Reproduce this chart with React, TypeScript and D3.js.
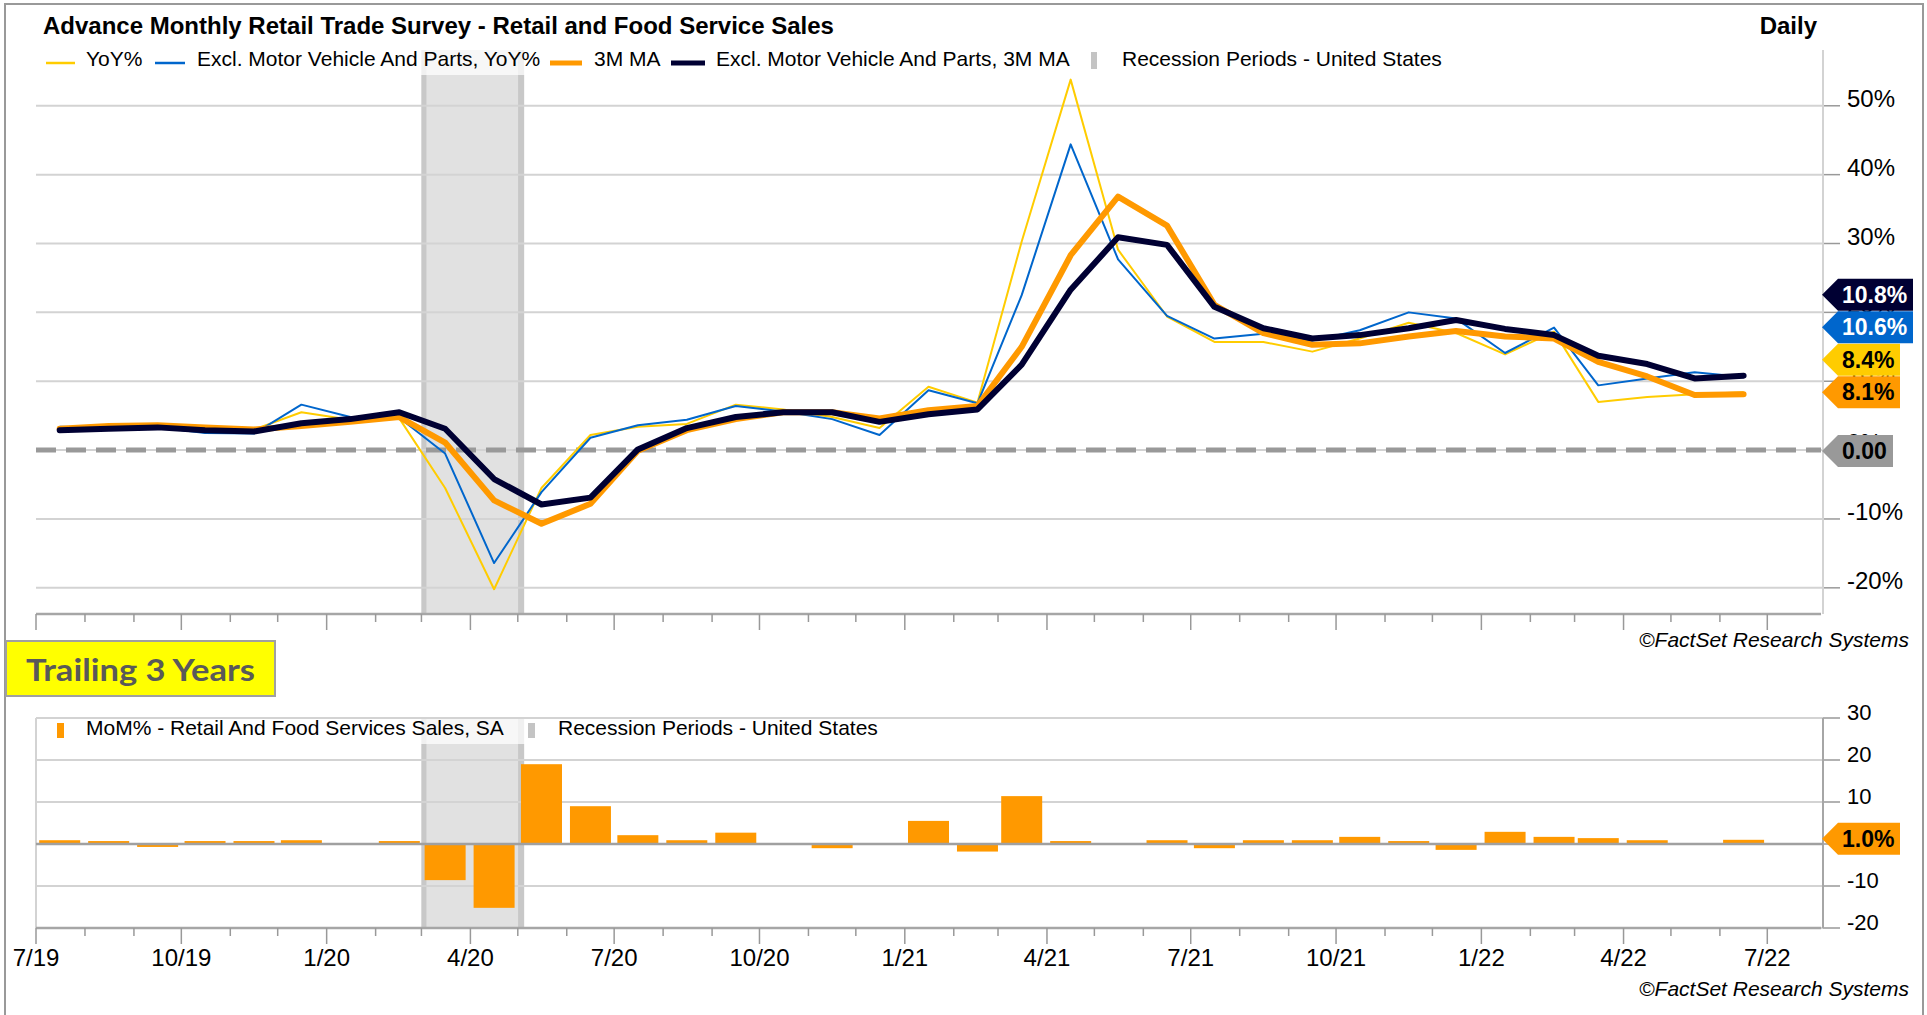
import React from 'react';
import * as d3 from 'd3';

const months = [
  '2019-07','2019-08','2019-09','2019-10','2019-11','2019-12',
  '2020-01','2020-02','2020-03','2020-04','2020-05','2020-06',
  '2020-07','2020-08','2020-09','2020-10','2020-11','2020-12',
  '2021-01','2021-02','2021-03','2021-04','2021-05','2021-06',
  '2021-07','2021-08','2021-09','2021-10','2021-11','2021-12',
  '2022-01','2022-02','2022-03','2022-04','2022-05','2022-06'
];
const yoy = [3.2,3.5,3.5,3.2,3.0,5.5,4.4,4.6,-5.5,-20.2,-5.5,2.2,3.4,3.8,6.6,5.9,4.8,3.2,9.2,6.9,30.3,53.8,29.1,19.4,15.7,15.7,14.3,16.2,18.5,17.0,13.9,17.2,7.0,7.7,8.1,8.4];
const exMotorYoy = [3.4,3.3,3.3,2.5,2.4,6.6,4.8,4.7,-0.5,-16.4,-6.1,1.8,3.6,4.4,6.4,5.6,4.5,2.2,8.7,6.8,22.5,44.4,27.7,19.5,16.2,16.9,15.9,17.4,20.0,19.1,14.1,17.8,9.4,10.4,11.3,10.6];
const ma3 = [3.1,3.5,3.6,3.3,3.0,3.5,4.1,4.8,1.1,-7.3,-10.7,-7.8,-0.1,2.9,4.5,5.5,5.5,4.6,5.8,6.4,15.0,28.3,36.8,32.6,21.1,17.0,15.3,15.5,16.5,17.3,16.5,16.2,12.8,10.7,8.0,8.1];
const exMotorMa3 = [2.9,3.1,3.3,2.9,2.7,3.9,4.5,5.5,3.1,-4.2,-7.9,-6.9,0.1,3.2,4.8,5.5,5.5,4.1,5.2,5.9,12.4,23.3,30.9,29.8,20.8,17.7,16.2,16.7,17.7,18.9,17.6,16.7,13.7,12.5,10.4,10.8];
const mom = [0.9,0.7,-0.7,0.7,0.7,0.9,0.1,0.7,-8.6,-15.2,19.0,9.0,2.1,0.9,2.7,0.1,-1.0,-0.2,5.5,-1.8,11.4,0.7,0.1,0.9,-1.0,0.9,0.9,1.7,0.7,-1.4,2.9,1.7,1.4,0.9,-0.2,1.0];
const recession = ['2020-03-01', '2020-05-05'];
const topTicks = [-20, -10, 0, 10, 20, 30, 40, 50];
const bottomTicks = [-20, -10, 0, 10, 20, 30];
const bottomLabelTicks = [-20, -10, 10, 20, 30];
const xDomain = ['2019-07-01', '2022-08-04'];
const xTickRange = ['2019-07-01', '2022-07-01'];

const FONT = '"Liberation Sans", Arial, Helvetica, sans-serif';
const C = {
  yellow: '#FFCC00',
  blue: '#0066CC',
  orange: '#FF9900',
  navy: '#000033',
  grid: '#d3d3d3',
  axis: '#a6a6a6',
  band: '#e1e1e1',
  bandEdge: '#c8c8c8',
};

const parse = (s: string) => {
  const [y, m, d] = s.split('-').map(Number);
  return new Date(y, m - 1, d || 16);
};
const dates = months.map((m) => parse(m + '-16'));

const L = 36, R = 1821;
const xs = d3.scaleTime().domain([parse(xDomain[0]), parse(xDomain[1])]).range([L, R]);
const yTop = d3.scaleLinear().domain([-23.8, 58.1]).range([614, 50]);
const yBot = d3.scaleLinear().domain([-20, 30]).range([928, 718]);

const tickDates = d3.timeMonth.range(parse(xTickRange[0]), d3.timeDay.offset(parse(xTickRange[1]), 1));
const fmtTick = (d: Date) => `${d.getMonth() + 1}/${String(d.getFullYear()).slice(2)}`;

function Tag({ cy, right, fill, text, color }: any) {
  const tip = 1822;
  return (
    <g>
      <polygon
        points={`${tip},${cy} ${tip + 16},${cy - 16} ${right},${cy - 16} ${right},${cy + 16} ${tip + 16},${cy + 16}`}
        fill={fill}
      />
      <text x={tip + 20} y={cy + 8} fontSize={23} fontWeight="bold" fill={color} fontFamily={FONT}>
        {text}
      </text>
    </g>
  );
}

function XAxis({ y }: { y: number }) {
  return (
    <g>
      <line x1={L} x2={R} y1={y} y2={y} stroke={C.axis} strokeWidth={2.5} />
      {tickDates.map((d, i) => {
        const major = d.getMonth() % 3 === 0;
        const x = xs(d);
        return <line key={i} x1={x} x2={x} y1={y} y2={y + (major ? 16 : 8)} stroke="#999" strokeWidth={1.5} />;
      })}
    </g>
  );
}

export default function App() {
  const line = d3.line<number>().x((_, i) => xs(dates[i])).y((v) => yTop(v));
  const b0 = xs(parse(recession[0]));
  const b1 = xs(parse(recession[1]));

  // stacked tags
  const series = [
    { v: exMotorMa3[exMotorMa3.length - 1], fill: C.navy, color: '#fff', right: 1913 },
    { v: exMotorYoy[exMotorYoy.length - 1], fill: C.blue, color: '#fff', right: 1913 },
    { v: yoy[yoy.length - 1], fill: C.yellow, color: '#000', right: 1900 },
    { v: ma3[ma3.length - 1], fill: C.orange, color: '#000', right: 1900 },
  ];
  const sorted = [...series].sort((a, b) => a.v - b.v);
  let prev = Infinity;
  const placed = sorted.map((s) => {
    const cy = Math.min(yTop(s.v) - 2, prev - 32.5);
    prev = cy;
    return { ...s, cy };
  });

  const barW = 41;
  const lastMom = mom[mom.length - 1];

  return (
    <svg width={1927} height={1015} style={{ position: 'absolute', left: 0, top: 0, background: '#fff' }} fontFamily={FONT}>
      <rect x={0} y={0} width={1927} height={1015} fill="#fff" />
      <rect x={5} y={4} width={1918} height={1030} fill="none" stroke="#999" strokeWidth={2} />

      {/* Title */}
      <text x={43} y={34} fontSize={24} fontWeight="bold" fill="#000">
        Advance Monthly Retail Trade Survey - Retail and Food Service Sales
      </text>
      <text x={1817} y={34} fontSize={24} fontWeight="bold" textAnchor="end" fill="#000">Daily</text>

      {/* ---------- TOP CHART ---------- */}
      <rect x={b0} y={50} width={b1 - b0} height={564} fill={C.band} />
      <rect x={b0} y={50} width={5} height={564} fill={C.bandEdge} />
      <rect x={b1 - 6} y={50} width={6} height={564} fill={C.bandEdge} />

      {topTicks.map((t) => (
        <g key={t}>
          <line x1={L} x2={R + 2} y1={yTop(t)} y2={yTop(t)} stroke={C.grid} strokeWidth={2} />
          <line x1={R + 2} x2={1840} y1={yTop(t)} y2={yTop(t)} stroke="#999" strokeWidth={1.5} />
          <text x={1847} y={yTop(t) + 1} fontSize={24} fill="#000">{t}%</text>
        </g>
      ))}
      <line x1={R + 2} x2={R + 2} y1={50} y2={614} stroke={C.grid} strokeWidth={2} />
      <line x1={L} x2={R} y1={yTop(0)} y2={yTop(0)} stroke="#999" strokeWidth={5} strokeDasharray="20 10" />

      <path d={line(yoy) || ''} fill="none" stroke={C.yellow} strokeWidth={2} strokeLinejoin="round" />
      <path d={line(exMotorYoy) || ''} fill="none" stroke={C.blue} strokeWidth={2} strokeLinejoin="round" />
      <path d={line(ma3) || ''} fill="none" stroke={C.orange} strokeWidth={6} strokeLinejoin="round" strokeLinecap="round" />
      <path d={line(exMotorMa3) || ''} fill="none" stroke={C.navy} strokeWidth={6} strokeLinejoin="round" strokeLinecap="round" />

      <XAxis y={614} />

      {/* top legend */}
      <rect x={L} y={50} width={1420} height={25} fill="#fff" fillOpacity={0.72} />
      <g fontSize={21} fill="#000">
        <line x1={46} x2={75} y1={63} y2={63} stroke={C.yellow} strokeWidth={2.5} />
        <text x={86} y={66}>YoY%</text>
        <line x1={155} x2={185} y1={63} y2={63} stroke={C.blue} strokeWidth={2.5} />
        <text x={197} y={66}>Excl. Motor Vehicle And Parts, YoY%</text>
        <line x1={550} x2={582} y1={63} y2={63} stroke={C.orange} strokeWidth={5} />
        <text x={594} y={66}>3M MA</text>
        <line x1={671} x2={705} y1={63} y2={63} stroke={C.navy} strokeWidth={5} />
        <text x={716} y={66}>Excl. Motor Vehicle And Parts, 3M MA</text>
        <rect x={1091} y={52} width={6} height={17} fill="#c4c4c4" />
        <text x={1122} y={66}>Recession Periods - United States</text>
      </g>

      {/* tags top */}
      {placed.map((p, i) => (
        <Tag key={i} cy={p.cy} right={p.right} fill={p.fill} color={p.color} text={`${p.v.toFixed(1)}%`} />
      ))}
      <Tag cy={yTop(0) + 1} right={1893} fill="#999999" color="#000" text="0.00" />

      <text x={1909} y={647} fontSize={21} fontStyle="italic" textAnchor="end" fill="#000">©FactSet Research Systems</text>

      {/* Trailing 3 years */}
      <rect x={6} y={641} width={269} height={55} fill="#FFFF00" stroke="#a0a0a0" strokeWidth={2} />
      <text x={26} y={681} fontSize={31} fontWeight="bold" fill="#595959" fontFamily='Lato, "Open Sans", sans-serif' textLength={229} lengthAdjust="spacingAndGlyphs">
        Trailing 3 Years
      </text>

      {/* ---------- BOTTOM CHART ---------- */}
      <rect x={b0} y={718} width={b1 - b0} height={210} fill={C.band} />
      <rect x={b0} y={718} width={5} height={210} fill={C.bandEdge} />
      <rect x={b1 - 6} y={718} width={6} height={210} fill={C.bandEdge} />

      {bottomTicks.map((t) => (
        <g key={t}>
          <line x1={L} x2={R + 2} y1={yBot(t)} y2={yBot(t)} stroke={t === 0 ? '#a0a0a0' : C.grid} strokeWidth={2} />
          <line x1={R + 2} x2={1840} y1={yBot(t)} y2={yBot(t)} stroke="#999" strokeWidth={1.5} />
        </g>
      ))}
      {bottomLabelTicks.map((t) => (
        <text key={t} x={1847} y={yBot(t) + 2} fontSize={22} fill="#000">{t}</text>
      ))}
      <line x1={L} x2={L} y1={718} y2={928} stroke={C.grid} strokeWidth={2} />
      <line x1={R + 2} x2={R + 2} y1={718} y2={928} stroke={C.axis} strokeWidth={2} />

      {mom.map((v, i) => {
        const x = xs(dates[i]) - barW / 2;
        const y0 = yBot(0);
        const y1 = yBot(v);
        return <rect key={i} x={x} y={Math.min(y0, y1)} width={barW} height={Math.abs(y1 - y0)} fill={C.orange} />;
      })}
      <line x1={L} x2={R + 2} y1={yBot(0)} y2={yBot(0)} stroke="#a0a0a0" strokeWidth={2.5} />

      <XAxis y={928} />
      {tickDates.filter((d) => d.getMonth() % 3 === 0).map((d, i) => (
        <text key={i} x={xs(d)} y={966} fontSize={24} textAnchor="middle" fill="#000">{fmtTick(d)}</text>
      ))}

      {/* bottom legend */}
      <rect x={L + 1} y={719} width={845} height={25} fill="#fff" fillOpacity={0.72} />
      <g fontSize={21} fill="#000">
        <rect x={57} y={723} width={7} height={15} fill={C.orange} />
        <text x={86} y={735}>MoM% - Retail And Food Services Sales, SA</text>
        <rect x={528} y={723} width={7} height={15} fill="#c4c4c4" />
        <text x={558} y={735}>Recession Periods - United States</text>
      </g>

      <Tag cy={yBot(lastMom) - 1} right={1900} fill={C.orange} color="#000" text={`${lastMom.toFixed(1)}%`} />

      <text x={1909} y={996} fontSize={21} fontStyle="italic" textAnchor="end" fill="#000">©FactSet Research Systems</text>
    </svg>
  );
}
